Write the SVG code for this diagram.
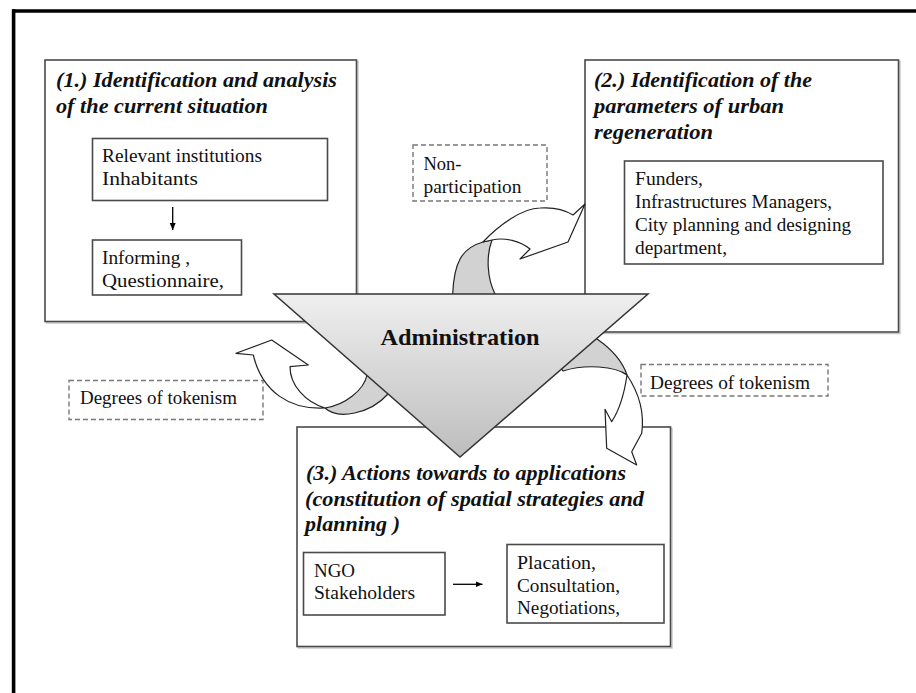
<svg xmlns="http://www.w3.org/2000/svg" width="916" height="693" viewBox="0 0 916 693">
<defs>
<linearGradient id="triGrad" x1="0" y1="0" x2="0" y2="1">
<stop offset="0" stop-color="#efefef"/>
<stop offset="1" stop-color="#bdbdbd"/>
</linearGradient>
<marker id="ah" markerWidth="8" markerHeight="8" refX="7" refY="4" orient="auto" markerUnits="userSpaceOnUse">
<path d="M0,1 L7,4 L0,7 Z" fill="#000"/>
</marker>
<style>
.box{fill:#fff;stroke:#4a4a4a;stroke-width:1.6}
.shadow{fill:none;stroke:#c8c8c8;stroke-width:1.5}
.dash{fill:#fff;stroke:#777;stroke-width:1.4;stroke-dasharray:5 3}
.t{font-family:"Liberation Serif","Times New Roman",serif;font-size:19px;fill:#111}
.h{font-family:"Liberation Serif","Times New Roman",serif;font-size:21px;font-weight:bold;font-style:italic;fill:#111}
.adm{font-family:"Liberation Serif","Times New Roman",serif;font-size:23px;font-weight:bold;fill:#111}
.arw{fill:#fff;stroke:#222;stroke-width:1.2;stroke-linejoin:round}
.back{fill:#d2d2d2;stroke:#222;stroke-width:1.2;stroke-linejoin:round}
.ln{stroke:#000;stroke-width:1.3;fill:none}
</style>
</defs>
<rect width="916" height="693" fill="#fff"/>
<g id="frame">
<line x1="12" y1="11" x2="916" y2="11" stroke="#000" stroke-width="3.6"/>
<line x1="13.6" y1="9.2" x2="13.6" y2="693" stroke="#000" stroke-width="3.6"/>
</g>

<g id="box1">
<rect class="shadow" x="46.5" y="61.5" width="311.5" height="261.5"/>
<rect class="box" x="45" y="60" width="311.5" height="261.5"/>
<text class="h" x="56" y="87" textLength="281" lengthAdjust="spacingAndGlyphs">(1.) Identification and analysis</text>
<text class="h" x="56" y="112.5" textLength="212" lengthAdjust="spacingAndGlyphs">of the current situation</text>
<g id="box1a">
<rect class="box" x="92.5" y="138.5" width="235" height="62"/>
<text class="t" x="102" y="162" textLength="160" lengthAdjust="spacingAndGlyphs">Relevant institutions</text>
<text class="t" x="102" y="184.5" textLength="96" lengthAdjust="spacingAndGlyphs">Inhabitants</text>
</g>
<g id="box1b">
<rect class="box" x="92.5" y="240" width="149" height="55"/>
<text class="t" x="102" y="264" textLength="88" lengthAdjust="spacingAndGlyphs">Informing ,</text>
<text class="t" x="102" y="287" textLength="122" lengthAdjust="spacingAndGlyphs">Questionnaire,</text>
</g>
</g>

<g id="box2">
<rect class="shadow" x="586.5" y="61.5" width="313.5" height="272"/>
<rect class="box" x="585" y="60" width="313.5" height="272"/>
<text class="h" x="594" y="87" textLength="218" lengthAdjust="spacingAndGlyphs">(2.) Identification of the</text>
<text class="h" x="594" y="112.5" textLength="190" lengthAdjust="spacingAndGlyphs">parameters of urban</text>
<text class="h" x="594" y="138.5" textLength="119" lengthAdjust="spacingAndGlyphs">regeneration</text>
<g id="box2a">
<rect class="box" x="624.5" y="161" width="258.5" height="103"/>
<text class="t" x="635" y="185" textLength="68" lengthAdjust="spacingAndGlyphs">Funders,</text>
<text class="t" x="635" y="208" textLength="197" lengthAdjust="spacingAndGlyphs">Infrastructures Managers,</text>
<text class="t" x="635" y="231" textLength="216" lengthAdjust="spacingAndGlyphs">City planning and designing</text>
<text class="t" x="635" y="254" textLength="92" lengthAdjust="spacingAndGlyphs">department,</text>
</g>
</g>

<g id="box3">
<rect class="shadow" x="298.5" y="428.5" width="373.5" height="219.5"/>
<rect class="box" x="297" y="427" width="373.5" height="219.5"/>
<text class="h" x="306" y="480" textLength="320" lengthAdjust="spacingAndGlyphs">(3.) Actions towards to applications</text>
<text class="h" x="305" y="506" textLength="339" lengthAdjust="spacingAndGlyphs">(constitution of spatial strategies and</text>
<text class="h" x="305" y="531" textLength="95" lengthAdjust="spacingAndGlyphs">planning )</text>
<g id="box3a">
<rect class="box" x="303.5" y="552.5" width="141.5" height="62.5"/>
<text class="t" x="314" y="576.5" textLength="41" lengthAdjust="spacingAndGlyphs">NGO</text>
<text class="t" x="314" y="599" textLength="101" lengthAdjust="spacingAndGlyphs">Stakeholders</text>
</g>
<g id="box3b">
<rect class="box" x="507" y="544.5" width="157" height="78.5"/>
<text class="t" x="517" y="569" textLength="79" lengthAdjust="spacingAndGlyphs">Placation,</text>
<text class="t" x="517" y="591.5" textLength="103" lengthAdjust="spacingAndGlyphs">Consultation,</text>
<text class="t" x="517" y="614" textLength="103" lengthAdjust="spacingAndGlyphs">Negotiations,</text>
</g>
</g>

<g id="label-nonparticipation">
<rect class="dash" x="413" y="145" width="134" height="56"/>
<text class="t" x="423.5" y="170" textLength="38" lengthAdjust="spacingAndGlyphs">Non-</text>
<text class="t" x="423.5" y="193" textLength="98" lengthAdjust="spacingAndGlyphs">participation</text>
</g>
<g id="label-tokenism-left">
<rect class="dash" x="69" y="380.5" width="194" height="39"/>
<text class="t" x="80" y="404" textLength="157" lengthAdjust="spacingAndGlyphs">Degrees of tokenism</text>
</g>
<g id="label-tokenism-right">
<rect class="dash" x="641" y="364.5" width="187" height="31.5"/>
<text class="t" x="650" y="389" textLength="160" lengthAdjust="spacingAndGlyphs">Degrees of tokenism</text>
</g>

<g id="connectors">
<line class="ln" x1="172.7" y1="207" x2="172.7" y2="230" marker-end="url(#ah)"/>
<line class="ln" x1="453" y1="584.3" x2="482.5" y2="584.3" marker-end="url(#ah)"/>
<g id="arrow-top">
<path class="back" d="M452.7,300 L452.7,294 C454,262 462,248 483,242 L492,240 C486,256 487,278 495,294 L495,300 Z"/>
<path class="arw" d="M483,242 C498,226 522,208 540,208 C553,207 565,210 573,215 L585,204 L568,242 L520,259 L530,249 C520,241 505,237 492,240 Z"/>
</g>
<g id="arrow-left">
<path class="back" d="M372,370 L367,375 C364,390 345,405 325,408 C338,420 370,414 388,394 L392,390 Z"/>
<path class="arw" d="M325,408 C290,410 262,392 253.3,355 L236,353.3 L271.7,340 L308.3,365 L290,366.7 C290,385 305,402 325,408 Z"/>
</g>
<g id="arrow-right">
<path class="back" d="M593,336 L597,339 C610,348 622,360 627,375 C615,366 585,364 563,371 L560,366 Z"/>
<path class="arw" d="M627,375 C637,390 645,410 641.7,433.3 L631.7,451.7 L636.7,465 L606.7,448.3 L605,409.3 L611.7,421.7 C618,412 624,396 627,375 Z"/>
</g>
</g>

<g id="administration">
<path d="M274,294 L648,294 L460,457 Z" fill="url(#triGrad)" stroke="#333" stroke-width="1.5" stroke-linejoin="miter"/>
<text class="adm" x="380.5" y="345" textLength="159" lengthAdjust="spacingAndGlyphs">Administration</text>
</g>
</svg>
